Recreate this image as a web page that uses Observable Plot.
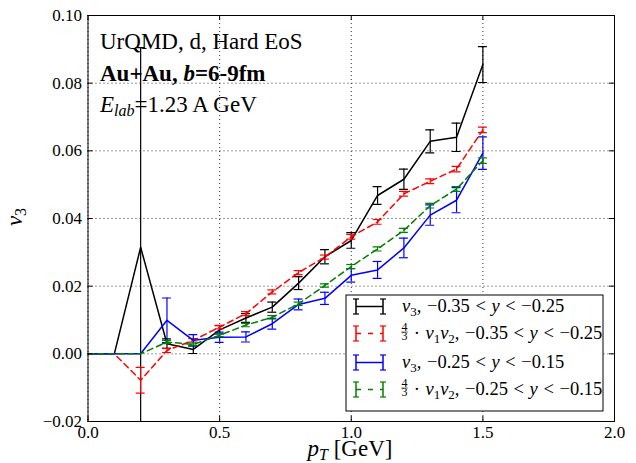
<!DOCTYPE html>
<html><head><meta charset="utf-8">
<script src="https://cdn.jsdelivr.net/npm/d3@7"></script>
<script src="https://cdn.jsdelivr.net/npm/@observablehq/plot@0.6"></script>
<style>
body{margin:0;background:#fff;}
#chart{position:relative;width:636px;height:463px;}
svg text{font-family:'Liberation Serif','Times New Roman',serif;}
</style></head><body><div id="chart"></div>
<script>
// ---- data ----
const pt = [0.0,0.1,0.2,0.3,0.4,0.5,0.6,0.7,0.8,0.9,1.0,1.1,1.2,1.3,1.4,1.5];
// v3, -0.35 < y < -0.25
const v3Low    = [0,0,0.0315,0.0030,0.0013,0.0071,0.0106,0.0138,0.0209,0.0287,0.0335,0.0468,0.0516,0.0628,0.0640,0.0855];
const v3LowErr = [0,0,0.0590,0.0014,0.0012,0.0012,0.0013,0.0015,0.0019,0.0021,0.0023,0.0026,0.0030,0.0034,0.0042,0.0053];
// 4/3 v1 v2, -0.35 < y < -0.25
const v12Low    = [0,0,-0.0078,0.0010,0.0040,0.0079,0.0119,0.0183,0.0240,0.0286,0.0346,0.0390,0.0473,0.0510,0.0546,0.0662];
const v12LowErr = [0,0,0.0038,0.0006,0.0005,0.0005,0.0006,0.0006,0.0006,0.0006,0.0007,0.0007,0.0007,0.0007,0.0008,0.0008];
// v3, -0.25 < y < -0.15
const v3High    = [0,0,0,0.0099,0.0040,0.0049,0.0050,0.0089,0.0146,0.0164,0.0232,0.0248,0.0313,0.0410,0.0454,0.0593];
const v3HighErr = [0,0,0,0.0066,0.0017,0.0015,0.0015,0.0016,0.0016,0.0018,0.0020,0.0025,0.0029,0.0030,0.0037,0.0048];
// 4/3 v1 v2, -0.25 < y < -0.15
const v12High    = [0,0,0,0.0035,0.0028,0.0055,0.0085,0.0108,0.0148,0.0202,0.0258,0.0310,0.0365,0.0438,0.0487,0.0571];
const v12HighErr = [0,0,0,0.0005,0.0004,0.0004,0.0005,0.0005,0.0005,0.0005,0.0006,0.0006,0.0006,0.0007,0.0007,0.0008];

const xTicks = [0.0,0.5,1.0,1.5,2.0];
const yTicks = [-0.02,0.00,0.02,0.04,0.06,0.08,0.10];

// ---- styling ----
const W = 636, H = 463, mL = 87.5, mR = 22, mT = 15, mB = 42;
const innerW = W - mL - mR, innerH = H - mT - mB;
const capHalf = 0.017;
const series = [
  {y: v3Low,   e: v3LowErr,   color: "#000000", dash: null},
  {y: v12Low,  e: v12LowErr,  color: "#ff0000", dash: "6,4"},
  {y: v3High,  e: v3HighErr,  color: "#0000ff", dash: null},
  {y: v12High, e: v12HighErr, color: "#008000", dash: "6,4"}
];

const marks = [
  Plot.ruleX(xTicks, {x: d => d, stroke: "black", strokeWidth: 0.8, strokeDasharray: "1,3"}),
  Plot.ruleY(yTicks, {y: d => d, stroke: "black", strokeWidth: 0.8, strokeDasharray: "1,3"})
];
for (const s of series) {
  const data = pt.map((x, i) => ({x, y: s.y[i], e: s.e[i]}));
  const withErr = data.filter(d => d.e > 0);
  marks.push(
    Plot.line(data, {x: "x", y: "y", stroke: s.color, strokeWidth: 1.5, strokeDasharray: s.dash, clip: true}),
    Plot.ruleX(withErr, {x: "x", y1: d => d.y - d.e, y2: d => d.y + d.e, stroke: s.color, strokeWidth: 1.2, clip: true}),
    Plot.ruleY(withErr, {y: d => d.y + d.e, x1: d => d.x - capHalf, x2: d => d.x + capHalf, stroke: s.color, strokeWidth: 1.2, clip: true}),
    Plot.ruleY(withErr, {y: d => d.y - d.e, x1: d => d.x - capHalf, x2: d => d.x + capHalf, stroke: s.color, strokeWidth: 1.2, clip: true})
  );
}
marks.push(
  Plot.tickX(xTicks, {x: d => d, insetTop: innerH - 5, stroke: "black"}),
  Plot.tickX(xTicks, {x: d => d, insetBottom: innerH - 5, stroke: "black"}),
  Plot.tickY(yTicks, {y: d => d, insetRight: innerW - 5, stroke: "black"}),
  Plot.tickY(yTicks, {y: d => d, insetLeft: innerW - 5, stroke: "black"}),
  Plot.frame({stroke: "black", strokeWidth: 1})
);

const plot = Plot.plot({
  width: W, height: H, marginLeft: mL, marginRight: mR, marginTop: mT, marginBottom: mB,
  style: {fontFamily: "'Liberation Serif', serif", fontSize: "17px", background: "white", color: "black", overflow: "visible"},
  x: {domain: [0, 2], ticks: xTicks, tickFormat: d3.format(".1f"), tickSize: 0, tickPadding: 4, label: null},
  y: {domain: [-0.02, 0.10], ticks: yTicks, tickFormat: d3.format(".2f"), tickSize: 0, tickPadding: 6, label: null},
  marks
});
document.getElementById("chart").appendChild(plot);

// ---- annotations, axis labels and legend ----
const svg = d3.select(plot);
const overlay = svg.append("g").attr("text-anchor", "start").attr("font-family", "'Liberation Serif', serif");
function txt(parent, x, y, html, size, extra = {}) {
  const t = parent.append("text").attr("x", x).attr("y", y).attr("font-size", size).attr("fill", "black").attr("text-anchor", "start").html(html);
  for (const k in extra) t.attr(k, extra[k]);
  return t;
}
txt(overlay, 100, 49, "UrQMD, d, Hard EoS", 23);
txt(overlay, 100, 81, "Au+Au, <tspan font-style='italic'>b</tspan>=6-9fm", 23, {"font-weight": "bold"});
txt(overlay, 100, 112, "<tspan font-style='italic'>E</tspan><tspan font-style='italic' font-size='16' dy='4'>lab</tspan><tspan dy='-4'>=1.23 A GeV</tspan>", 23);

// y label
overlay.append("text").attr("transform", "translate(22,217) rotate(-90)").attr("text-anchor", "middle")
  .attr("font-size", 23).html("<tspan font-style='italic'>v</tspan><tspan font-size='16' dy='4'>3</tspan>");
// x label
txt(overlay, 350, 456, "<tspan font-style='italic'>p</tspan><tspan font-style='italic' font-size='16' dy='4'>T</tspan><tspan dy='-4'> [GeV]</tspan>", 23, {"text-anchor": "middle"});

// legend
const lg = overlay.append("g");
lg.append("rect").attr("x", 346).attr("y", 295).attr("width", 257).attr("height", 116)
  .attr("fill", "white").attr("stroke", "black").attr("stroke-width", 1);
const rowsY = [306.5, 333.5, 362.5, 389.5];
const labels = [
  {frac: false, range: "−0.35 &lt; <tspan font-style='italic'>y</tspan> &lt; −0.25"},
  {frac: true,  range: "−0.35 &lt; <tspan font-style='italic'>y</tspan> &lt; −0.25"},
  {frac: false, range: "−0.25 &lt; <tspan font-style='italic'>y</tspan> &lt; −0.15"},
  {frac: true,  range: "−0.25 &lt; <tspan font-style='italic'>y</tspan> &lt; −0.15"}
];
series.forEach((s, i) => {
  const cy = rowsY[i];
  const x0 = 356, x1 = 383;
  lg.append("line").attr("x1", x0).attr("x2", x1).attr("y1", cy).attr("y2", cy)
    .attr("stroke", s.color).attr("stroke-width", 1.5).attr("stroke-dasharray", s.dash ? "5,7" : null);
  for (const xx of [x0, x1]) {
    lg.append("line").attr("x1", xx).attr("x2", xx).attr("y1", cy - 7.5).attr("y2", cy + 7.5).attr("stroke", s.color).attr("stroke-width", 1.5);
    lg.append("line").attr("x1", xx - 3).attr("x2", xx + 3).attr("y1", cy - 7.5).attr("y2", cy - 7.5).attr("stroke", s.color).attr("stroke-width", 1.2);
    lg.append("line").attr("x1", xx - 3).attr("x2", xx + 3).attr("y1", cy + 7.5).attr("y2", cy + 7.5).attr("stroke", s.color).attr("stroke-width", 1.2);
  }
  const base = cy + 5.5;
  const L = labels[i];
  if (!L.frac) {
    txt(lg, 402, base, "<tspan font-style='italic'>v</tspan><tspan font-size='13' dy='4'>3</tspan><tspan dy='-4'>, " + L.range + "</tspan>", 18.5, {"word-spacing": "1px"});
  } else {
    txt(lg, 404.5, base - 8.5, "4", 12, {"text-anchor": "middle"});
    txt(lg, 404.5, base + 0.5, "3", 12, {"text-anchor": "middle"});
    lg.append("line").attr("x1", 401).attr("x2", 408).attr("y1", base - 7).attr("y2", base - 7).attr("stroke", "black").attr("stroke-width", 0.5);
    txt(lg, 408, base, " · <tspan font-style='italic'>v</tspan><tspan font-size='13' dy='4'>1</tspan><tspan dy='-4' font-style='italic'>v</tspan><tspan font-size='13' dy='4'>2</tspan><tspan dy='-4'>, " + L.range + "</tspan>", 18.5, {"word-spacing": "1px"});
  }
});
</script></body></html>
